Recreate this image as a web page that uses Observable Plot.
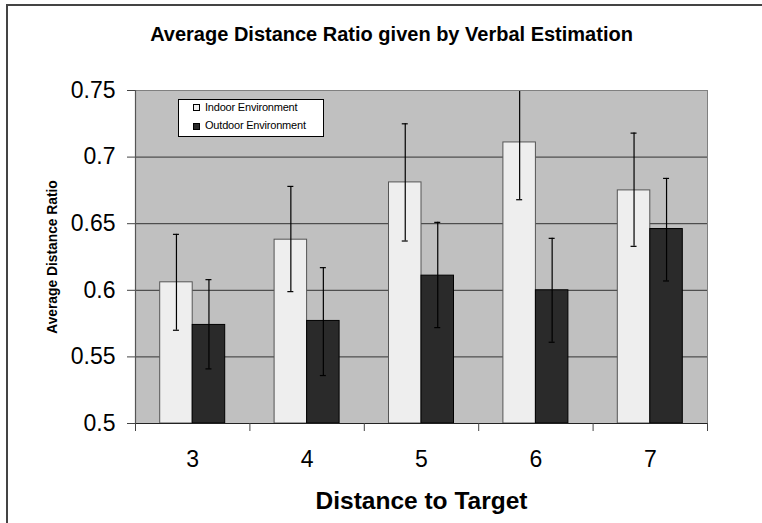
<!DOCTYPE html>
<html><head><meta charset="utf-8">
<script src="https://cdn.jsdelivr.net/npm/d3@7"></script>
<script src="https://cdn.jsdelivr.net/npm/@observablehq/plot@0.6"></script>
<style>
body{margin:0;background:#fff;overflow:hidden;font-family:"Liberation Sans",Arial,sans-serif;}
#wrap{position:relative;width:762px;height:523px;overflow:hidden;}
#border{position:absolute;left:6px;top:4px;width:900px;height:700px;border-left:2px solid #444;border-top:2px solid #444;}
#legend{position:absolute;left:178px;top:99px;width:144px;height:36px;border:1px solid #000;background:#fff;font-size:11px;line-height:1;}
#legend .sw{position:absolute;width:5px;height:5px;border:1px solid #000;left:14px;}
#legend .lab{position:absolute;left:26px;white-space:nowrap;letter-spacing:-0.2px;color:#000;}
</style>
</head><body>
<div id="wrap">
  <div id="border"></div>
  <div id="chart"></div>
  <div id="legend"></div>
</div>
<script>
const categories = [3, 4, 5, 6, 7];
const indoorMean = [0.606, 0.638, 0.681, 0.711, 0.675];
const indoorLow  = [0.570, 0.599, 0.637, 0.668, 0.633];
const indoorHigh = [0.642, 0.678, 0.725, 0.754, 0.718];
const outdoorMean = [0.574, 0.577, 0.611, 0.600, 0.646];
const outdoorLow  = [0.541, 0.536, 0.572, 0.561, 0.607];
const outdoorHigh = [0.608, 0.617, 0.651, 0.639, 0.684];
const yTicks = [0.5, 0.55, 0.6, 0.65, 0.7, 0.75];
const seriesNames = ["Indoor Environment", "Outdoor Environment"];
const seriesColors = ["#eeeeee", "#2a2a2a"];
const seriesStrokes = ["#555555", "#000000"];
const title = "Average Distance Ratio given by Verbal Estimation";
const xTitle = "Distance to Target";
const yTitle = "Average Distance Ratio";

const indoor = categories.map((c, i) => ({cat: c, mean: indoorMean[i], lo: indoorLow[i], hi: indoorHigh[i]}));
const outdoor = categories.map((c, i) => ({cat: c, mean: outdoorMean[i], lo: outdoorLow[i], hi: outdoorHigh[i]}));
const bounds = categories.map(c => c - 0.5).concat([categories[categories.length - 1] + 0.5]);

function seriesMarks(data, side, fill, stroke) {
  const off = side * 16.25;
  return [
    Plot.rectY(data, {
      x1: d => side < 0 ? d.cat - 0.5 : d.cat,
      x2: d => side < 0 ? d.cat : d.cat + 0.5,
      y1: yTicks[0], y2: "mean",
      fill, stroke, strokeWidth: 1,
      insetLeft: side < 0 ? 24.7 : 0, insetRight: side < 0 ? 0 : 24.7
    }),
    Plot.ruleX(data, {x: "cat", y1: "lo", y2: "hi", dx: off, stroke: "#000", strokeWidth: 1.2, clip: true}),
    Plot.ruleY(data, {y: "hi", x1: "cat", x2: "cat", insetLeft: -3, insetRight: -3, dx: off, stroke: "#000", strokeWidth: 1.2, clip: true}),
    Plot.ruleY(data, {y: "lo", x1: "cat", x2: "cat", insetLeft: -3, insetRight: -3, dx: off, stroke: "#000", strokeWidth: 1.2, clip: true})
  ];
}

const chart = Plot.plot({
  width: 762, height: 523,
  marginLeft: 135, marginRight: 55, marginTop: 90, marginBottom: 100,
  style: {fontFamily: "Liberation Sans, Arial, sans-serif", background: "transparent", overflow: "visible", color: "#000"},
  x: {domain: [bounds[0], bounds[bounds.length - 1]]},
  y: {domain: [yTicks[0], yTicks[yTicks.length - 1]]},
  marks: [
    Plot.frame({fill: "#c0c0c0", stroke: null}),
    Plot.ruleY(yTicks.slice(1, -1), {stroke: "#333", strokeWidth: 1}),
    ...seriesMarks(indoor, -1, seriesColors[0], seriesStrokes[0]),
    ...seriesMarks(outdoor, 1, seriesColors[1], seriesStrokes[1]),
    Plot.frame({stroke: "#808080", strokeWidth: 1}),
    Plot.ruleX([bounds[0]], {stroke: "#555", strokeWidth: 1.2}),
    Plot.ruleY([yTicks[0]], {stroke: "#222", strokeWidth: 1.2}),
    Plot.axisY({ticks: yTicks, tickSize: 8, tickPadding: 12, fontSize: 23, label: null,
      tickFormat: d => String(+d.toFixed(2)), stroke: "#444", fill: "#000"}),
    Plot.axisX({ticks: bounds, tickSize: 8, tickFormat: () => "", label: null, stroke: "#444"}),
    Plot.axisX({ticks: categories, tickSize: 0, tickPadding: 27, fontSize: 23, label: null,
      tickFormat: d => String(d), fill: "#000"}),
    Plot.text([title], {text: d => d, frameAnchor: "top", lineAnchor: "bottom", dy: -50, dx: -30,
      fontSize: 20, fontWeight: "bold", fill: "#000"}),
    Plot.text([xTitle], {text: d => d, frameAnchor: "bottom", lineAnchor: "bottom", dy: 85,
      fontSize: 24.5, fontWeight: "bold", fill: "#000"}),
    Plot.text([yTitle], {text: d => d, frameAnchor: "left", rotate: -90, dx: -83, textAnchor: "middle",
      lineAnchor: "middle", fontSize: 13.8, fontWeight: "bold", fill: "#000"})
  ]
});
document.getElementById("chart").appendChild(chart);

const legend = document.getElementById("legend");
const rowBaselines = [11, 29.7];
seriesNames.forEach((name, i) => {
  const sw = document.createElement("div");
  sw.className = "sw";
  sw.style.top = (rowBaselines[i] - 7) + "px";
  sw.style.background = seriesColors[i];
  legend.appendChild(sw);
  const lab = document.createElement("div");
  lab.className = "lab";
  lab.style.top = (rowBaselines[i] - 9.3) + "px";
  lab.textContent = name;
  legend.appendChild(lab);
});
</script>
</body></html>
